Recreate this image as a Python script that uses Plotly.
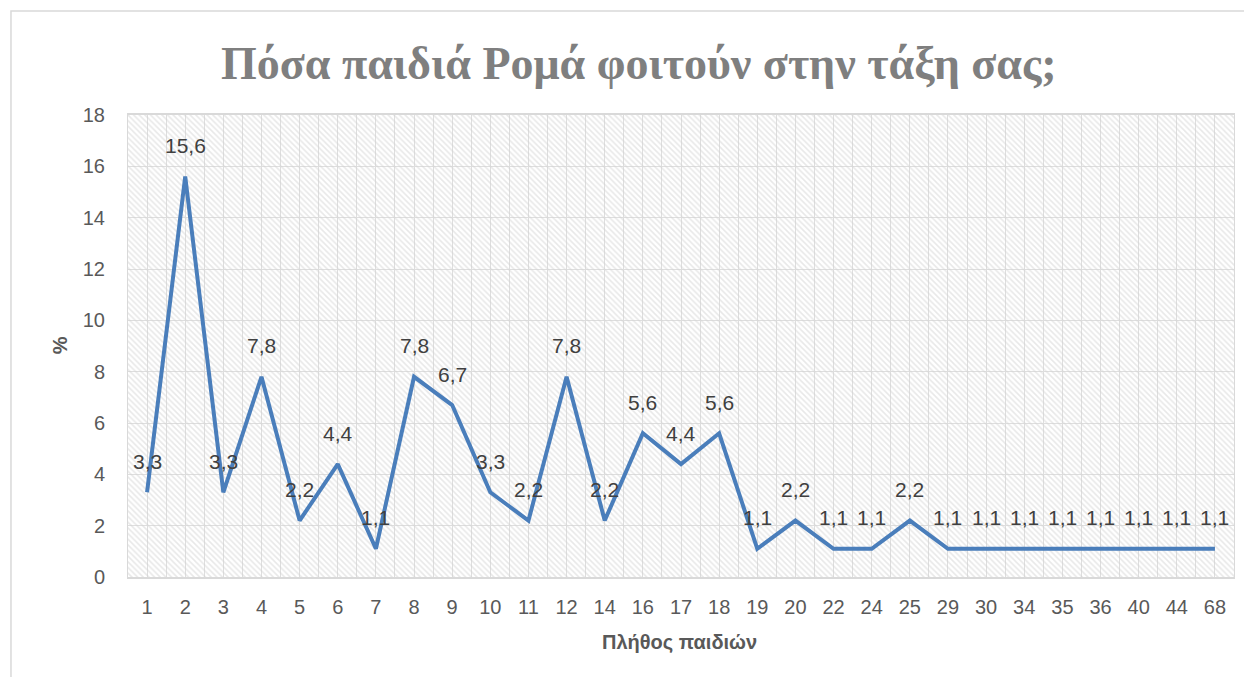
import plotly.graph_objects as go

# number of Roma children in class -> share of answers (%)
categories = ["1", "2", "3", "4", "5", "6", "7", "8", "9", "10", "11", "12", "14",
              "16", "17", "18", "19", "20", "22", "24", "25", "29", "30", "34",
              "35", "36", "40", "44", "68"]
percent = [3.3, 15.6, 3.3, 7.8, 2.2, 4.4, 1.1, 7.8, 6.7, 3.3, 2.2, 7.8, 2.2,
           5.6, 4.4, 5.6, 1.1, 2.2, 1.1, 1.1, 2.2, 1.1, 1.1, 1.1,
           1.1, 1.1, 1.1, 1.1, 1.1]

title = "Πόσα παιδιά Ρομά φοιτούν στην τάξη σας;"
x_title = "Πλήθος παιδιών"
y_title = "%"
y_max = 18

idx = list(range(len(categories)))
labels = [f"{v:.1f}".replace(".", ",") for v in percent]

fig = go.Figure()

# hatched plot-area backdrop (Excel pattern fill)
fig.add_trace(
    go.Bar(
        x=idx,
        y=[y_max] * len(idx),
        width=1,
        marker=dict(
            color="rgba(0,0,0,0)",
            line_width=0,
            pattern=dict(shape="\\", fgcolor="#d2d2d2", bgcolor="rgba(0,0,0,0)",
                         size=4, solidity=0.4),
        ),
        hoverinfo="skip",
        showlegend=False,
    )
)

fig.add_trace(
    go.Scatter(
        x=idx,
        y=percent,
        mode="lines",
        line=dict(color="#4A7EBB", width=4),
        hovertemplate="%{text}: %{y}%<extra></extra>",
        text=categories,
        showlegend=False,
    )
)

for i, (v, lab) in enumerate(zip(percent, labels)):
    fig.add_annotation(
        x=i, y=v, text=lab, showarrow=False, yshift=31,
        font=dict(family="Liberation Sans", size=21, color="#404040"),
    )

fig.add_annotation(
    xref="paper", yref="paper", x=0.462, y=1.172, text=f"<b>{title}</b>",
    showarrow=False,
    font=dict(family="Liberation Serif", size=46, color="#7f7f7f"),
)
fig.add_annotation(
    xref="paper", yref="paper", x=0.499, y=-0.168, text=f"<b>{x_title}</b>",
    showarrow=False,
    font=dict(family="Liberation Sans", size=20, color="#595959"),
)
fig.add_annotation(
    xref="paper", yref="paper", x=-0.073, y=0.502, text=f"<b>{y_title}</b>",
    showarrow=False, textangle=-90,
    font=dict(family="Liberation Sans", size=20, color="#595959"),
)

# chart border
fig.add_shape(
    type="rect", xref="paper", yref="paper",
    x0=-0.1058, x1=1.05, y0=-0.3, y1=1.225,
    line=dict(color="#d9d9d9", width=1.5), fillcolor="rgba(0,0,0,0)",
    layer="below",
)

tick_font = dict(family="Liberation Sans", size=20, color="#595959")
# page body has an 8px margin, so the figure is sized to fit inside the window
fig.update_layout(
    width=1236,
    height=669,
    margin=dict(l=120, r=10, t=107, b=100),
    paper_bgcolor="white",
    plot_bgcolor="white",
    bargap=0,
    xaxis=dict(
        range=[-0.5, len(categories) - 0.5],
        tickmode="array", tickvals=idx, ticktext=categories,
        tickfont=tick_font,
        ticks="outside", ticklen=11, tickcolor="rgba(0,0,0,0)",
        showgrid=True, gridcolor="#dedede", gridwidth=1,
        minor=dict(tickmode="linear", tick0=0.5, dtick=1, showgrid=True,
                   gridcolor="#dedede", gridwidth=1),
        showline=True, linecolor="#d9d9d9", linewidth=1.5, mirror=True,
        zeroline=False, fixedrange=True,
    ),
    yaxis=dict(
        range=[0, y_max], dtick=2,
        tickfont=tick_font,
        ticks="outside", ticklen=18, tickcolor="rgba(0,0,0,0)",
        showgrid=True, gridcolor="#dedede", gridwidth=1,
        showline=True, linecolor="#d9d9d9", linewidth=1, mirror=True,
        zeroline=False, fixedrange=True,
    ),
)

fig.write_html("out.html")
